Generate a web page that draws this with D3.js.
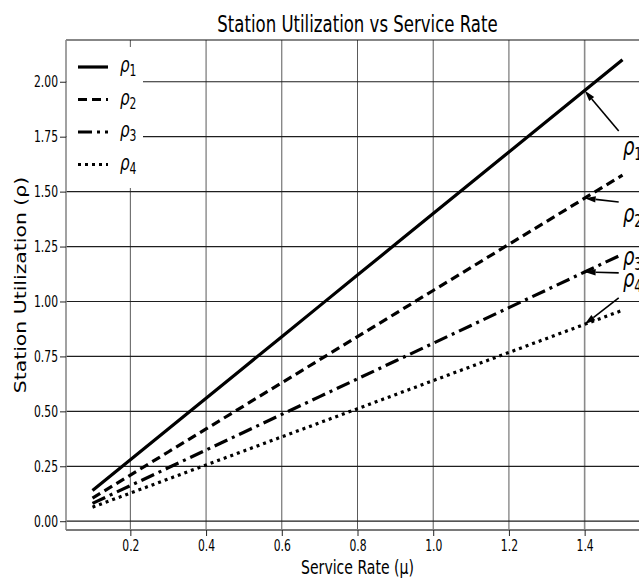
<!DOCTYPE html>
<html>
<head>
<meta charset="utf-8">
<script src="https://cdn.jsdelivr.net/npm/d3@7"></script>
<style>
  html, body { margin: 0; padding: 0; background: #fff; overflow: hidden; }
  svg { display: block; font-family: "DejaVu Sans", sans-serif; }
</style>
</head>
<body>
<svg id="chart" width="639" height="578"></svg>
<script>
// Service rate values (x) and utilization of each station (y)
const serviceRate = [0.1, 0.2, 0.3, 0.4, 0.5, 0.6, 0.7, 0.8, 0.9, 1.0, 1.1, 1.2, 1.3, 1.4, 1.5];
const rho1 = [0.14, 0.28, 0.42, 0.56, 0.70, 0.84, 0.98, 1.12, 1.26, 1.40, 1.54, 1.68, 1.82, 1.96, 2.10];
const rho2 = [0.105, 0.21, 0.315, 0.42, 0.525, 0.63, 0.735, 0.84, 0.945, 1.05, 1.155, 1.26, 1.365, 1.47, 1.575];
const rho3 = [0.081, 0.162, 0.243, 0.324, 0.405, 0.486, 0.567, 0.648, 0.729, 0.81, 0.891, 0.972, 1.053, 1.134, 1.215];
const rho4 = [0.064, 0.128, 0.192, 0.256, 0.32, 0.384, 0.448, 0.512, 0.576, 0.64, 0.704, 0.768, 0.832, 0.896, 0.96];

const seriesNames = ["1", "2", "3", "4"];
const xTicks = [0.2, 0.4, 0.6, 0.8, 1.0, 1.2, 1.4];
const yTicks = [0.00, 0.25, 0.50, 0.75, 1.00, 1.25, 1.50, 1.75, 2.00];

// Arrow callouts: target point, arrow tail and label anchor, in data units
const calloutTarget = [[1.4, 1.96], [1.4, 1.47], [1.4, 1.134], [1.4, 0.896]];
const calloutTail   = [[1.49, 1.776], [1.49, 1.453], [1.49, 1.13], [1.49, 1.016]];
const calloutText   = [[1.501, 1.667], [1.501, 1.362], [1.501, 1.166], [1.501, 1.066]];

const title = "Station Utilization vs Service Rate";
const xLabel = "Service Rate (\u00b5)";
const yLabel = "Station Utilization (\u03c1)";

const series = [rho1, rho2, rho3, rho4];
const dashes = [null, "9,5", "14,5,3,5", "3,4"];
const sx = 0.72; // horizontal glyph squeeze

const svg = d3.select("#chart");
const margin = { left: 66, top: 40, right: 649, bottom: 530 };

const x = d3.scaleLinear().domain([0.03, 1.57]).range([margin.left, margin.right]);
const y = d3.scaleLinear().domain([-0.04, 2.19]).range([margin.bottom, margin.top]);

svg.append("defs").append("clipPath").attr("id", "plot")
  .append("rect")
  .attr("x", margin.left).attr("y", margin.top)
  .attr("width", margin.right - margin.left).attr("height", margin.bottom - margin.top);

// grid
const grid = svg.append("g");
grid.selectAll("line.v").data(xTicks).join("line")
  .attr("x1", d => x(d)).attr("x2", d => x(d))
  .attr("y1", margin.top).attr("y2", margin.bottom)
  .attr("stroke", (d, i) => i === xTicks.length - 1 ? "#8a8a8a" : "#5a5a5a")
  .attr("stroke-width", (d, i) => i === xTicks.length - 1 ? 1.6 : 1);
grid.selectAll("line.h").data(yTicks).join("line")
  .attr("x1", margin.left).attr("x2", margin.right)
  .attr("y1", d => y(d)).attr("y2", d => y(d))
  .attr("stroke", "#1e1e1e").attr("stroke-width", 1.2);

// spines
svg.append("line").attr("x1", margin.left).attr("x2", margin.right)
  .attr("y1", margin.top).attr("y2", margin.top).attr("stroke", "#111").attr("stroke-width", 1.2);
svg.append("line").attr("x1", margin.left).attr("x2", margin.left)
  .attr("y1", margin.top).attr("y2", margin.bottom).attr("stroke", "#8a8a8a").attr("stroke-width", 1.6);
svg.append("line").attr("x1", margin.left).attr("x2", margin.right)
  .attr("y1", margin.bottom).attr("y2", margin.bottom).attr("stroke", "#7a7a7a").attr("stroke-width", 1.8);

// axes
const xAxis = svg.append("g").attr("transform", `translate(0,${margin.bottom})`)
  .call(d3.axisBottom(x).tickValues(xTicks).tickFormat(d3.format(".1f")).tickSize(6).tickPadding(4));
const yAxis = svg.append("g").attr("transform", `translate(${margin.left},0)`)
  .call(d3.axisLeft(y).tickValues(yTicks).tickFormat(d3.format(".2f")).tickSize(6).tickPadding(2));
[xAxis, yAxis].forEach(a => {
  a.select(".domain").remove();
  a.selectAll(".tick line").attr("stroke", "#222").attr("stroke-width", 1);
  a.selectAll(".tick text").attr("fill", "#000").style("font-size", "15px")
    .style("font-family", "'DejaVu Sans', sans-serif");
});
xAxis.selectAll(".tick text").attr("transform", `scale(${sx},1)`);
yAxis.selectAll(".tick text").attr("x", -8 / sx).attr("transform", `scale(${sx},1)`);

// series lines
const line = d3.line().x((d, i) => x(serviceRate[i])).y(d => y(d));
const plot = svg.append("g").attr("clip-path", "url(#plot)");
plot.selectAll("path.series").data(series).join("path")
  .attr("class", "series")
  .attr("d", d => line(d))
  .attr("fill", "none").attr("stroke", "#000").attr("stroke-width", 3.2)
  .attr("stroke-dasharray", (d, i) => dashes[i]);

// callout arrows
const callouts = svg.append("g");
calloutTarget.forEach((t, i) => {
  const x0 = x(calloutTail[i][0]), y0 = y(calloutTail[i][1]);
  const x1 = x(t[0]), y1 = y(t[1]);
  const ang = Math.atan2(y1 - y0, x1 - x0);
  const head = 11, half = 3.2;
  const bx = x1 - head * Math.cos(ang), by = y1 - head * Math.sin(ang);
  callouts.append("line").attr("x1", x0).attr("y1", y0).attr("x2", bx).attr("y2", by)
    .attr("stroke", "#000").attr("stroke-width", 1.6);
  const pts = [
    [x1, y1],
    [bx + half * Math.sin(ang), by - half * Math.cos(ang)],
    [bx - half * Math.sin(ang), by + half * Math.cos(ang)]
  ];
  callouts.append("path").attr("d", "M" + pts.map(p => p.join(",")).join("L") + "Z").attr("fill", "#000");
  const g = callouts.append("g")
    .attr("transform", `translate(${x(calloutText[i][0])},${y(calloutText[i][1])}) scale(${sx},1)`);
  const tx = g.append("text").style("font-size", "25px").attr("fill", "#000");
  tx.append("tspan").style("font-style", "italic").text("\u03c1");
  tx.append("tspan").attr("dy", 5).style("font-size", "17px").text(seriesNames[i]);
});

// legend
const legend = svg.append("g");
legend.append("rect").attr("x", margin.left + 1).attr("y", 47).attr("width", 76).attr("height", 141)
  .attr("fill", "#fff");
series.forEach((s, i) => {
  const ly = 67 + i * 32.5;
  legend.append("line").attr("x1", 78).attr("x2", 108).attr("y1", ly).attr("y2", ly)
    .attr("stroke", "#000").attr("stroke-width", 3.2).attr("stroke-dasharray", dashes[i]);
  const g = legend.append("g").attr("transform", `translate(120,${ly + 5}) scale(${sx},1)`);
  const tx = g.append("text").style("font-size", "21px").attr("fill", "#000");
  tx.append("tspan").style("font-style", "italic").text("\u03c1");
  tx.append("tspan").attr("dy", 4).style("font-size", "15px").text(seriesNames[i]);
});

// titles
svg.append("g").attr("transform", `translate(${(margin.left + margin.right) / 2},32) scale(${sx},1)`)
  .append("text").attr("text-anchor", "middle").style("font-size", "23px").attr("fill", "#000").text(title);
svg.append("g").attr("transform", `translate(${(margin.left + margin.right) / 2},574) scale(${sx},1)`)
  .append("text").attr("text-anchor", "middle").style("font-size", "19.5px").attr("fill", "#000").text(xLabel);
svg.append("g").attr("transform", `translate(26,${(margin.top + margin.bottom) / 2}) scale(0.78,1) rotate(-90)`)
  .append("text").attr("text-anchor", "middle").style("font-size", "20.4px").attr("fill", "#000").text(yLabel);
</script>
</body>
</html>
